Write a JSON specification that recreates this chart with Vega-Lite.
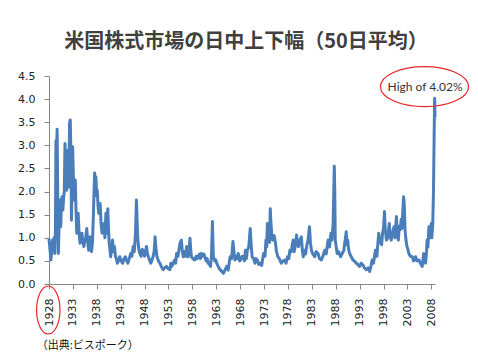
{
  "$schema": "https://vega.github.io/schema/vega-lite/v6.json",
  "width": 386,
  "height": 208,
  "autosize": {"type": "none"},
  "padding": {"left": 49, "top": 76, "right": 43, "bottom": 76},
  "background": "white",
  "config": {
    "view": {"stroke": null},
    "axis": {"labelOverlap": false, "labelFlush": false, "grid": false, "title": null,
             "labelFont": "DejaVu Sans", "labelFontSize": 11, "labelColor": "#222",
             "labelPadding": 9, "tickSize": 5, "tickColor": "#868686", "domainColor": "#868686"}
  },
  "title": {
    "text": "米国株式市場の日中上下幅（50日平均）",
    "font": "Noto Sans CJK JP",
    "fontSize": 20,
    "fontWeight": "bold",
    "color": "#404040",
    "anchor": "middle",
    "frame": "group",
    "dx": 4,
    "offset": 12
  },
  "layer": [
    {
      "data": {"values": [
        {"year":1928.0,"v":0.98},{"year":1928.2,"v":0.75},{"year":1928.4,"v":0.52},{"year":1928.55,"v":0.7},{"year":1928.75,"v":0.95},{"year":1928.9,"v":0.8},
        {"year":1929.05,"v":1.0},{"year":1929.2,"v":0.66},{"year":1929.35,"v":1.2},{"year":1929.45,"v":3.1},{"year":1929.55,"v":2.6},{"year":1929.7,"v":3.35},{"year":1929.8,"v":2.2},{"year":1929.95,"v":0.66},
        {"year":1930.1,"v":1.2},{"year":1930.2,"v":1.82},{"year":1930.35,"v":1.5},{"year":1930.45,"v":1.24},{"year":1930.6,"v":1.7},{"year":1930.72,"v":1.89},{"year":1930.9,"v":1.6},
        {"year":1931.05,"v":1.85},{"year":1931.2,"v":2.0},{"year":1931.35,"v":3.04},{"year":1931.5,"v":2.5},{"year":1931.7,"v":2.03},{"year":1931.85,"v":2.6},
        {"year":1932.0,"v":2.9},{"year":1932.15,"v":2.1},{"year":1932.3,"v":3.48},{"year":1932.45,"v":3.55},{"year":1932.6,"v":2.8},{"year":1932.7,"v":1.38},{"year":1932.85,"v":2.4},{"year":1932.95,"v":2.97},
        {"year":1933.1,"v":2.3},{"year":1933.2,"v":1.82},{"year":1933.35,"v":2.0},{"year":1933.5,"v":2.25},{"year":1933.65,"v":1.6},{"year":1933.8,"v":1.1},{"year":1933.95,"v":1.3},
        {"year":1934.1,"v":1.53},{"year":1934.3,"v":1.1},{"year":1934.5,"v":0.88},{"year":1934.7,"v":1.0},{"year":1934.9,"v":1.1},
        {"year":1935.1,"v":0.9},{"year":1935.3,"v":0.81},{"year":1935.5,"v":0.95},{"year":1935.7,"v":1.0},{"year":1935.9,"v":1.2},
        {"year":1936.1,"v":0.9},{"year":1936.3,"v":0.73},{"year":1936.45,"v":0.85},{"year":1936.6,"v":1.02},{"year":1936.75,"v":0.8},{"year":1936.9,"v":0.7},
        {"year":1937.1,"v":0.9},{"year":1937.3,"v":1.53},{"year":1937.45,"v":2.1},{"year":1937.55,"v":2.4},{"year":1937.7,"v":2.2},{"year":1937.8,"v":2.32},
        {"year":1938.0,"v":1.9},{"year":1938.1,"v":2.03},{"year":1938.25,"v":1.7},{"year":1938.4,"v":1.53},{"year":1938.55,"v":1.65},{"year":1938.7,"v":1.74},{"year":1938.9,"v":1.3},
        {"year":1939.1,"v":1.1},{"year":1939.3,"v":1.2},{"year":1939.5,"v":1.31},{"year":1939.7,"v":1.0},{"year":1939.9,"v":1.53},
        {"year":1940.1,"v":1.1},{"year":1940.3,"v":1.63},{"year":1940.45,"v":1.2},{"year":1940.6,"v":0.88},{"year":1940.75,"v":0.75},{"year":1940.9,"v":0.59},
        {"year":1941.1,"v":0.75},{"year":1941.3,"v":0.95},{"year":1941.5,"v":0.7},{"year":1941.7,"v":0.81},{"year":1941.9,"v":0.6},
        {"year":1942.1,"v":0.55},{"year":1942.3,"v":0.45},{"year":1942.55,"v":0.5},{"year":1942.8,"v":0.59},
        {"year":1943.1,"v":0.5},{"year":1943.4,"v":0.45},{"year":1943.7,"v":0.55},{"year":1944.0,"v":0.59},{"year":1944.25,"v":0.5},{"year":1944.5,"v":0.45},{"year":1944.8,"v":0.55},
        {"year":1945.1,"v":0.66},{"year":1945.35,"v":0.6},{"year":1945.6,"v":0.81},{"year":1945.85,"v":0.7},
        {"year":1946.1,"v":1.1},{"year":1946.3,"v":1.82},{"year":1946.45,"v":1.3},{"year":1946.6,"v":0.95},{"year":1946.8,"v":0.75},
        {"year":1947.0,"v":0.66},{"year":1947.3,"v":0.6},{"year":1947.5,"v":0.75},{"year":1947.7,"v":0.73},
        {"year":1948.0,"v":0.6},{"year":1948.2,"v":0.7},{"year":1948.4,"v":0.81},{"year":1948.6,"v":0.65},{"year":1948.8,"v":0.59},
        {"year":1949.1,"v":0.5},{"year":1949.3,"v":0.45},{"year":1949.5,"v":0.5},{"year":1949.8,"v":0.6},
        {"year":1950.0,"v":0.7},{"year":1950.2,"v":1.02},{"year":1950.4,"v":0.75},{"year":1950.6,"v":0.59},{"year":1950.9,"v":0.5},
        {"year":1951.2,"v":0.45},{"year":1951.5,"v":0.38},{"year":1951.9,"v":0.31},{"year":1952.2,"v":0.35},{"year":1952.6,"v":0.38},{"year":1952.9,"v":0.33},
        {"year":1953.3,"v":0.31},{"year":1953.5,"v":0.45},{"year":1953.7,"v":0.38},{"year":1954.0,"v":0.45},{"year":1954.3,"v":0.52},{"year":1954.5,"v":0.45},{"year":1954.7,"v":0.66},
        {"year":1955.0,"v":0.6},{"year":1955.2,"v":0.75},{"year":1955.4,"v":0.88},{"year":1955.7,"v":0.95},{"year":1955.9,"v":0.7},
        {"year":1956.1,"v":0.59},{"year":1956.4,"v":0.7},{"year":1956.6,"v":0.6},{"year":1956.8,"v":0.81},{"year":1957.0,"v":0.65},{"year":1957.1,"v":0.59},
        {"year":1957.35,"v":0.8},{"year":1957.5,"v":0.99},{"year":1957.65,"v":0.75},{"year":1957.8,"v":0.59},
        {"year":1958.1,"v":0.55},{"year":1958.5,"v":0.52},{"year":1958.8,"v":0.6},{"year":1959.0,"v":0.55},{"year":1959.2,"v":0.59},{"year":1959.5,"v":0.65},{"year":1959.7,"v":0.55},{"year":1959.9,"v":0.66},
        {"year":1960.1,"v":0.6},{"year":1960.4,"v":0.65},{"year":1960.6,"v":0.59},{"year":1960.9,"v":0.5},
        {"year":1961.1,"v":0.55},{"year":1961.3,"v":0.45},{"year":1961.6,"v":0.42},{"year":1961.8,"v":0.38},
        {"year":1962.0,"v":0.6},{"year":1962.2,"v":1.35},{"year":1962.3,"v":0.9},{"year":1962.4,"v":0.59},{"year":1962.7,"v":0.5},{"year":1962.9,"v":0.52},
        {"year":1963.1,"v":0.45},{"year":1963.4,"v":0.38},{"year":1963.8,"v":0.31},{"year":1964.1,"v":0.28},{"year":1964.5,"v":0.23},{"year":1964.8,"v":0.3},
        {"year":1965.2,"v":0.38},{"year":1965.5,"v":0.3},{"year":1965.7,"v":0.45},{"year":1965.9,"v":0.59},
        {"year":1966.2,"v":0.55},{"year":1966.5,"v":0.92},{"year":1966.7,"v":0.7},{"year":1966.9,"v":0.52},
        {"year":1967.2,"v":0.6},{"year":1967.4,"v":0.55},{"year":1967.6,"v":0.66},{"year":1967.9,"v":0.5},
        {"year":1968.1,"v":0.52},{"year":1968.4,"v":0.6},{"year":1968.7,"v":0.59},{"year":1968.9,"v":0.5},
        {"year":1969.1,"v":0.73},{"year":1969.3,"v":0.55},{"year":1969.5,"v":0.73},{"year":1969.8,"v":0.8},
        {"year":1970.1,"v":1.2},{"year":1970.3,"v":0.85},{"year":1970.5,"v":0.59},{"year":1970.8,"v":0.55},
        {"year":1971.1,"v":0.45},{"year":1971.3,"v":0.55},{"year":1971.6,"v":0.52},{"year":1971.9,"v":0.42},
        {"year":1972.2,"v":0.45},{"year":1972.5,"v":0.4},{"year":1972.9,"v":0.66},
        {"year":1973.2,"v":0.6},{"year":1973.4,"v":0.95},{"year":1973.55,"v":0.8},{"year":1973.7,"v":1.31},{"year":1973.85,"v":1.0},
        {"year":1974.0,"v":1.1},{"year":1974.15,"v":0.9},{"year":1974.3,"v":1.63},{"year":1974.4,"v":1.4},{"year":1974.5,"v":1.24},{"year":1974.65,"v":1.0},{"year":1974.8,"v":0.95},
        {"year":1975.1,"v":1.05},{"year":1975.4,"v":0.88},{"year":1975.6,"v":0.7},{"year":1975.9,"v":0.59},
        {"year":1976.2,"v":0.55},{"year":1976.6,"v":0.45},{"year":1977.0,"v":0.5},{"year":1977.3,"v":0.52},{"year":1977.6,"v":0.45},{"year":1977.9,"v":0.59},
        {"year":1978.2,"v":0.55},{"year":1978.4,"v":0.73},{"year":1978.7,"v":0.7},{"year":1978.9,"v":0.85},
        {"year":1979.1,"v":0.95},{"year":1979.3,"v":0.7},{"year":1979.6,"v":0.85},{"year":1979.8,"v":1.06},
        {"year":1980.0,"v":0.9},{"year":1980.2,"v":0.81},{"year":1980.5,"v":0.95},{"year":1980.8,"v":1.02},
        {"year":1981.0,"v":0.75},{"year":1981.2,"v":0.59},{"year":1981.5,"v":0.73},{"year":1981.7,"v":0.65},{"year":1981.9,"v":0.81},
        {"year":1982.2,"v":0.95},{"year":1982.5,"v":1.24},{"year":1982.7,"v":0.9},{"year":1982.9,"v":0.73},
        {"year":1983.2,"v":0.65},{"year":1983.6,"v":0.59},{"year":1983.9,"v":0.7},{"year":1984.3,"v":0.66},{"year":1984.6,"v":0.55},
        {"year":1985.0,"v":0.52},{"year":1985.3,"v":0.6},{"year":1985.7,"v":0.73},
        {"year":1986.0,"v":0.65},{"year":1986.2,"v":0.8},{"year":1986.4,"v":0.95},{"year":1986.7,"v":0.8},
        {"year":1987.0,"v":1.1},{"year":1987.2,"v":0.95},{"year":1987.45,"v":1.3},{"year":1987.7,"v":2.55},{"year":1987.8,"v":2.0},{"year":1987.9,"v":0.95},
        {"year":1988.1,"v":0.8},{"year":1988.3,"v":0.66},{"year":1988.6,"v":0.7},
        {"year":1989.0,"v":0.59},{"year":1989.3,"v":0.65},{"year":1989.7,"v":0.73},{"year":1989.9,"v":0.9},
        {"year":1990.2,"v":1.13},{"year":1990.35,"v":0.85},{"year":1990.5,"v":0.95},{"year":1990.7,"v":0.75},{"year":1990.9,"v":0.66},
        {"year":1991.2,"v":0.6},{"year":1991.6,"v":0.52},{"year":1991.9,"v":0.5},
        {"year":1992.3,"v":0.45},{"year":1992.6,"v":0.42},{"year":1993.0,"v":0.38},{"year":1993.3,"v":0.45},{"year":1993.7,"v":0.41},
        {"year":1994.0,"v":0.35},{"year":1994.4,"v":0.31},{"year":1994.8,"v":0.35},
        {"year":1995.1,"v":0.27},{"year":1995.4,"v":0.4},{"year":1995.6,"v":0.52},{"year":1995.9,"v":0.45},
        {"year":1996.3,"v":0.73},{"year":1996.6,"v":0.6},{"year":1996.8,"v":0.85},
        {"year":1997.0,"v":1.1},{"year":1997.2,"v":0.9},{"year":1997.4,"v":0.95},{"year":1997.6,"v":0.85},{"year":1997.8,"v":1.1},
        {"year":1998.0,"v":1.2},{"year":1998.2,"v":1.57},{"year":1998.35,"v":1.2},{"year":1998.6,"v":0.95},{"year":1998.9,"v":1.0},
        {"year":1999.2,"v":1.31},{"year":1999.4,"v":1.05},{"year":1999.6,"v":0.95},{"year":1999.9,"v":1.1},
        {"year":2000.2,"v":1.24},{"year":2000.4,"v":1.0},{"year":2000.7,"v":1.46},{"year":2000.9,"v":1.1},
        {"year":2001.1,"v":0.95},{"year":2001.3,"v":1.25},{"year":2001.5,"v":1.17},{"year":2001.7,"v":1.4},{"year":2001.85,"v":1.2},
        {"year":2002.0,"v":1.5},{"year":2002.2,"v":1.89},{"year":2002.35,"v":1.7},{"year":2002.5,"v":1.17},{"year":2002.7,"v":0.95},{"year":2002.9,"v":0.81},
        {"year":2003.1,"v":0.75},{"year":2003.3,"v":0.66},{"year":2003.6,"v":0.6},
        {"year":2004.0,"v":0.59},{"year":2004.3,"v":0.5},{"year":2004.7,"v":0.59},
        {"year":2005.0,"v":0.5},{"year":2005.4,"v":0.52},{"year":2005.7,"v":0.45},
        {"year":2006.1,"v":0.38},{"year":2006.4,"v":0.66},{"year":2006.6,"v":0.5},{"year":2006.8,"v":0.45},
        {"year":2007.0,"v":0.7},{"year":2007.1,"v":0.95},{"year":2007.3,"v":0.8},{"year":2007.5,"v":1.24},{"year":2007.7,"v":1.0},{"year":2007.8,"v":1.1},
        {"year":2008.0,"v":1.31},{"year":2008.1,"v":1.0},{"year":2008.3,"v":1.3},{"year":2008.45,"v":2.0},{"year":2008.6,"v":3.3},{"year":2008.7,"v":4.02},{"year":2008.77,"v":3.6}
      ]},
      "mark": {"type": "line", "color": "#4a7ebb", "strokeWidth": 3, "strokeJoin": "round"},
      "encoding": {
        "x": {
          "field": "year", "type": "quantitative",
          "scale": {"domain": [1928, 2008.77], "nice": false, "zero": false},
          "axis": {"values": [1928,1933,1938,1943,1948,1953,1958,1963,1968,1973,1978,1983,1988,1993,1998,2003,2008], "format": "d", "labelAngle": -90, "labelOverlap": false}
        },
        "y": {
          "field": "v", "type": "quantitative",
          "scale": {"domain": [0, 4.5], "nice": false},
          "axis": {"values": [0,0.5,1,1.5,2,2.5,3,3.5,4,4.5], "format": ".1f", "labelOverlap": false}
        }
      }
    },
    {
      "data": {"values": [{"year": 2006.57, "v": 4.27}]},
      "mark": {
        "type": "point",
        "shape": "M 1 0 C 1 0.251 0.552 0.4545 0 0.4545 C -0.552 0.4545 -1 0.251 -1 0 C -1 -0.251 -0.552 -0.4545 0 -0.4545 C 0.552 -0.4545 1 -0.251 1 0 Z",
        "size": 7744,
        "filled": false,
        "stroke": "#e8262b",
        "strokeWidth": 1.2,
        "opacity": 1
      },
      "encoding": {
        "x": {"field": "year", "type": "quantitative",
          "axis": {"values": [1928,1933,1938,1943,1948,1953,1958,1963,1968,1973,1978,1983,1988,1993,1998,2003,2008], "format": "d", "labelAngle": -90, "labelOverlap": false}},
        "y": {"field": "v", "type": "quantitative",
          "axis": {"values": [0,0.5,1,1.5,2,2.5,3,3.5,4,4.5], "format": ".1f", "labelOverlap": false}}
      }
    },
    {
      "data": {"values": [{"year": 1927.85, "v": -0.5625}]},
      "mark": {
        "type": "point",
        "shape": "M 0.4875 0 C 0.4875 0.552 0.269 1 0 1 C -0.269 1 -0.4875 0.552 -0.4875 0 C -0.4875 -0.552 -0.269 -1 0 -1 C 0.269 -1 0.4875 -0.552 0.4875 0 Z",
        "size": 2304,
        "filled": false,
        "stroke": "#e8262b",
        "strokeWidth": 1.2,
        "opacity": 1
      },
      "encoding": {
        "x": {"field": "year", "type": "quantitative",
          "axis": {"values": [1928,1933,1938,1943,1948,1953,1958,1963,1968,1973,1978,1983,1988,1993,1998,2003,2008], "format": "d", "labelAngle": -90, "labelOverlap": false}},
        "y": {"field": "v", "type": "quantitative",
          "axis": {"values": [0,0.5,1,1.5,2,2.5,3,3.5,4,4.5], "format": ".1f", "labelOverlap": false}}
      }
    },
    {
      "data": {"values": [{"year": 2006.7, "v": 4.27, "label": "High of 4.02%"}]},
      "mark": {"type": "text", "font": "Lato", "fontSize": 12, "color": "#333", "align": "center", "baseline": "middle"},
      "encoding": {
        "x": {"field": "year", "type": "quantitative",
          "axis": {"values": [1928,1933,1938,1943,1948,1953,1958,1963,1968,1973,1978,1983,1988,1993,1998,2003,2008], "format": "d", "labelAngle": -90, "labelOverlap": false}},
        "y": {"field": "v", "type": "quantitative",
          "axis": {"values": [0,0.5,1,1.5,2,2.5,3,3.5,4,4.5], "format": ".1f", "labelOverlap": false}},
        "text": {"field": "label"}
      }
    },
    {
      "data": {"values": [{"year": 1925.43, "v": -1.34, "label": "（出典:ビスポーク）"}]},
      "mark": {"type": "text", "font": "Noto Sans CJK JP", "fontSize": 11, "color": "#111", "align": "left", "baseline": "middle"},
      "encoding": {
        "x": {"field": "year", "type": "quantitative",
          "axis": {"values": [1928,1933,1938,1943,1948,1953,1958,1963,1968,1973,1978,1983,1988,1993,1998,2003,2008], "format": "d", "labelAngle": -90, "labelOverlap": false}},
        "y": {"field": "v", "type": "quantitative",
          "axis": {"values": [0,0.5,1,1.5,2,2.5,3,3.5,4,4.5], "format": ".1f", "labelOverlap": false}},
        "text": {"field": "label"}
      }
    }
  ]
}
